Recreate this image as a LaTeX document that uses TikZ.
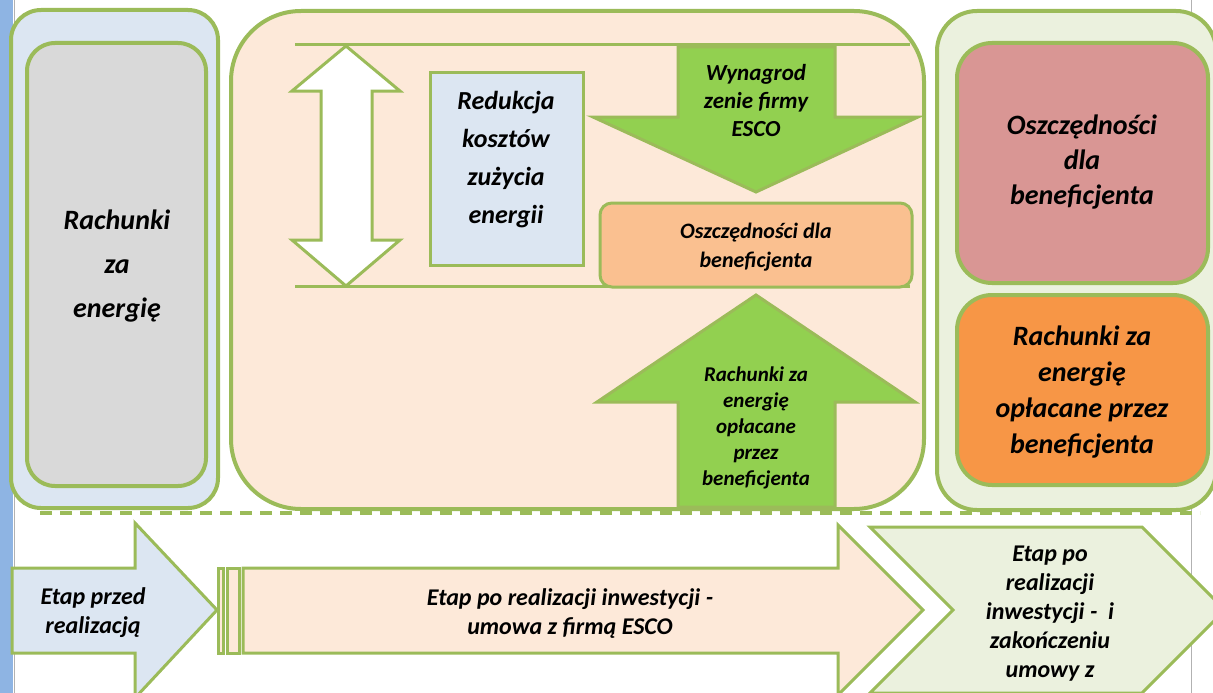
\documentclass[tikz,border=0pt]{standalone}
\usepackage{fontspec}
\setmainfont{Carlito}
\usepackage{tikz}
\usetikzlibrary{positioning}
\definecolor{ramka}{HTML}{9BBB59}
\definecolor{niebieski}{HTML}{DCE6F2}
\definecolor{szary}{HTML}{D9D9D9}
\definecolor{brzoskwinia}{HTML}{FDE9D9}
\definecolor{oliwka}{HTML}{EBF1DE}
\definecolor{rozowy}{HTML}{D99694}
\definecolor{pomarancz}{HTML}{F79646}
\definecolor{losos}{HTML}{FAC090}
\definecolor{zielony}{HTML}{92D050}
\definecolor{pasek}{HTML}{8EB4E3}
\newcommand{\napis}[2]{\fontsize{#1}{#2}\selectfont\bfseries\itshape}
\tikzset{panel/.style={draw=ramka, line width=4pt}}
\tikzset{blok/.style={draw=ramka, line width=3pt, line join=miter}}
\tikzset{tekst/.style={align=center, inner sep=0pt}}

\begin{document}
\begin{tikzpicture}[x=1pt, y=-1pt]
        \useasboundingbox (0,0) rectangle (1213,693);
        \clip (0,0) rectangle (1213,693);
        \fill[pasek] (0,0) rectangle (13,693);
        \draw[gray!60] (14.5,0) -- (14.5,693);
        \draw[gray!60] (1191,0) -- (1191,693);
        % left panel
        \draw[panel, fill=niebieski, rounded corners=30] (11,10) rectangle (218,508);
        \draw[panel, fill=szary, rounded corners=28] (27,43) rectangle (206,486);
        \node[tekst, font=\napis{28}{44}] (rachunki) at (117,266) {Rachunki\\za\\energię};
        % middle panel
        \draw[panel, fill=brzoskwinia, rounded corners=70] (231,11) rectangle (924,509);
        \draw[ramka, line width=3pt] (295,45) -- (910,45);
        \draw[ramka, line width=3pt] (295,286) -- (910,286);
        \draw[blok, fill=white] (346,46) -- (400,91) -- (372,91) -- (372,240) -- (400,240)
          -- (346,286) -- (292,240) -- (321,240) -- (321,91) -- (292,91) -- cycle;
        \draw[blok, fill=niebieski] (430,73) rectangle (583,265);
        \node[tekst, font=\napis{26}{38}] (redukcja) at (506,160) {Redukcja\\kosztów\\zużycia\\energii};
        \draw[blok, fill=zielony] (678,47) -- (835,47) -- (835,117) -- (918,117) -- (756,192)
          -- (593,117) -- (678,117) -- cycle;
        \node[tekst, font=\napis{23}{28}] (wynagrodzenie) at (756,101) {Wynagrod\\zenie firmy\\ESCO};
        \draw[blok, fill=losos, rounded corners=12] (600,203) rectangle (912,287);
        \node[tekst, font=\napis{22}{29}] (oszczednosci) at (756,247) {Oszczędności dla\\beneficjenta};
        \draw[blok, fill=zielony] (756,295) -- (915,402) -- (835,402) -- (835,507) -- (678,507)
          -- (678,402) -- (597,402) -- cycle;
        \node[tekst, font=\napis{21}{26}] (rachunkiBen) at (756,428) {Rachunki za\\energię\\opłacane\\przez\\beneficjenta};
        % right panel
        \draw[panel, fill=oliwka, rounded corners=40] (937,11) rectangle (1216,510);
        \draw[panel, fill=rozowy, rounded corners=35] (957,43) rectangle (1208,283);
        \node[tekst, font=\napis{28}{35}] (oszczRight) at (1082,162) {Oszczędności\\dla\\beneficjenta};
        \draw[panel, fill=pomarancz, rounded corners=35] (957,295) rectangle (1208,485);
        \node[tekst, font=\napis{28}{36}] (rachunkiRight) at (1082,392) {Rachunki za\\energię\\opłacane przez\\beneficjenta};
        \draw[ramka, line width=3.5pt, dash pattern=on 12pt off 8pt] (40,513) -- (1200,513);
        % stages
        \draw[blok, fill=niebieski] (12,568) -- (135,568) -- (135,523) -- (217,610) -- (135,698)
          -- (135,653) -- (12,653) -- cycle;
        \node[tekst, font=\napis{24}{29}] (etapPrzed) at (93,613) {Etap przed\\realizacją};
        \draw[blok, fill=brzoskwinia] (218,568) rectangle (223,653);
        \draw[blok, fill=brzoskwinia] (227,568) rectangle (239,653);
        \draw[blok, fill=brzoskwinia] (243,568) -- (838,568) -- (838,525) -- (923,610) -- (838,695)
          -- (838,653) -- (243,653) -- cycle;
        \node[tekst, font=\napis{24}{29}] (etapPo) at (570,614) {Etap po realizacji inwestycji -\\umowa z firmą ESCO};
        \draw[blok, fill=oliwka] (870,527) -- (1142,527) -- (1225,610) -- (1142,693) -- (870,693)
          -- (953,610) -- cycle;
        \node[tekst, font=\napis{24}{29}] (etapKoniec) at (1050,614) {Etap po\\realizacji\\inwestycji -\ \ i\\zakończeniu\\umowy z};
      \end{tikzpicture}
\end{document}
